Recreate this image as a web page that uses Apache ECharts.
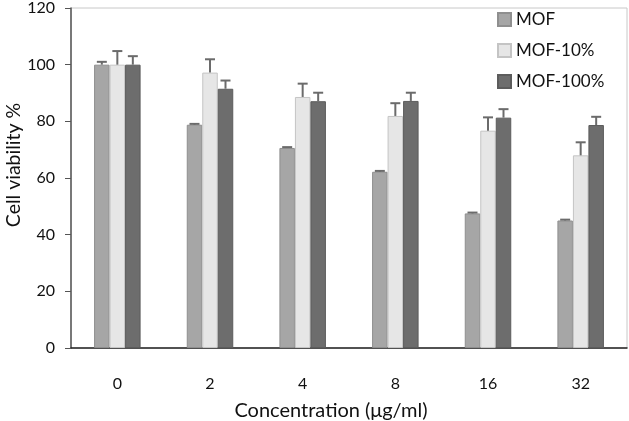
<!DOCTYPE html>
<html><head><meta charset="utf-8">
<script src="https://cdn.jsdelivr.net/npm/echarts@6/dist/echarts.min.js"></script>
<style>html,body{margin:0;padding:0;background:#fff}#c{width:629px;height:421px}</style>
</head><body><div id="c"></div>
<script>
const categories = ['0', '2', '4', '8', '16', '32'];
const seriesNames = ['MOF', 'MOF-10%', 'MOF-100%'];
const mofValues = [100, 78.8, 70.6, 62.2, 47.5, 45.0];
const mofErr = [1.0, 0.3, 0.3, 0.3, 0.3, 0.3];
const mof10Values = [100, 97.2, 88.6, 81.9, 76.7, 68.0];
const mof10Err = [4.8, 4.7, 4.7, 4.5, 4.7, 4.6];
const mof100Values = [100, 91.5, 87.1, 87.2, 81.3, 78.7];
const mof100Err = [3.0, 2.9, 3.0, 2.9, 3.0, 2.9];
const yTicks = [0, 20, 40, 60, 80, 100, 120];

const FONT = 'Lato';
const BW = 15.5;
const colors = ['#a6a6a6', '#e6e6e6', '#6d6d6d'];
const borders = ['#8f8f8f', '#c4c4c4', '#5c5c5c'];
const valuesList = [mofValues, mof10Values, mof100Values];
const errList = [mofErr, mof10Err, mof100Err];

const chart = echarts.init(document.getElementById('c'), null, {renderer: 'canvas'});

const barSeries = seriesNames.map((n, i) => ({
  name: n, type: 'bar', data: valuesList[i], barWidth: BW, barGap: '0%',
  itemStyle: {color: colors[i], borderColor: borders[i], borderWidth: 1},
  z: 2
}));

const errSeries = seriesNames.map((n, i) => ({
  type: 'custom', name: n + '_err',
  data: categories.map((c, k) => [k, valuesList[i][k], errList[i][k]]),
  renderItem: function (params, api) {
    const k = api.value(0), v = api.value(1), e = api.value(2);
    const p0 = api.coord([k, v]);
    const p1 = api.coord([k, v + e]);
    const x = p0[0] + (i - 1) * BW;
    return {
      type: 'group',
      children: [
        {type: 'line', shape: {x1: x, y1: p0[1], x2: x, y2: p1[1]}, style: {stroke: '#6b6b6b', lineWidth: 2}},
        {type: 'line', shape: {x1: x - 5, y1: p1[1], x2: x + 5, y2: p1[1]}, style: {stroke: '#6b6b6b', lineWidth: 2}}
      ]
    };
  },
  encode: {x: 0, y: 1},
  z: 3, silent: true
}));

chart.setOption({
  animation: false,
  backgroundColor: '#fff',
  grid: {left: 71, top: 4, right: 2, bottom: 73, show: true, borderColor: '#c8c8c8', borderWidth: 1},
  legend: {
    data: seriesNames, orient: 'vertical', left: 492, top: 6,
    itemWidth: 13, itemHeight: 13, itemGap: 14,
    textStyle: {fontFamily: FONT, fontSize: 17, color: '#111'},
    icon: 'rect'
  },
  xAxis: {
    type: 'category', data: categories,
    axisLine: {lineStyle: {color: '#222', width: 1.5}},
    axisTick: {show: false},
    axisLabel: {fontFamily: FONT, fontSize: 16, color: '#111', margin: 28}
  },
  yAxis: {
    type: 'value', min: 0, max: 120, interval: 20,
    axisLine: {show: true, lineStyle: {color: '#555', width: 1.5}},
    axisTick: {show: true, length: 6, lineStyle: {color: '#555'}},
    splitLine: {show: false},
    axisLabel: {fontFamily: FONT, fontSize: 16, color: '#111', margin: 16,
      formatter: v => yTicks.indexOf(v) >= 0 ? String(v) : ''}
  },
  graphic: [
    {type: 'text', x: 14, y: 165, rotation: Math.PI / 2,
     style: {text: 'Cell viability %', fontFamily: FONT, fontSize: 19.5, fill: '#111', textAlign: 'center', textVerticalAlign: 'middle'}},
    {type: 'text', x: 331, y: 411,
     style: {text: 'Concentration (\u03bcg/ml)', fontFamily: FONT, fontSize: 20, fill: '#111', textAlign: 'center', textVerticalAlign: 'middle'}}
  ],
  series: barSeries.concat(errSeries)
});
</script></body></html>
